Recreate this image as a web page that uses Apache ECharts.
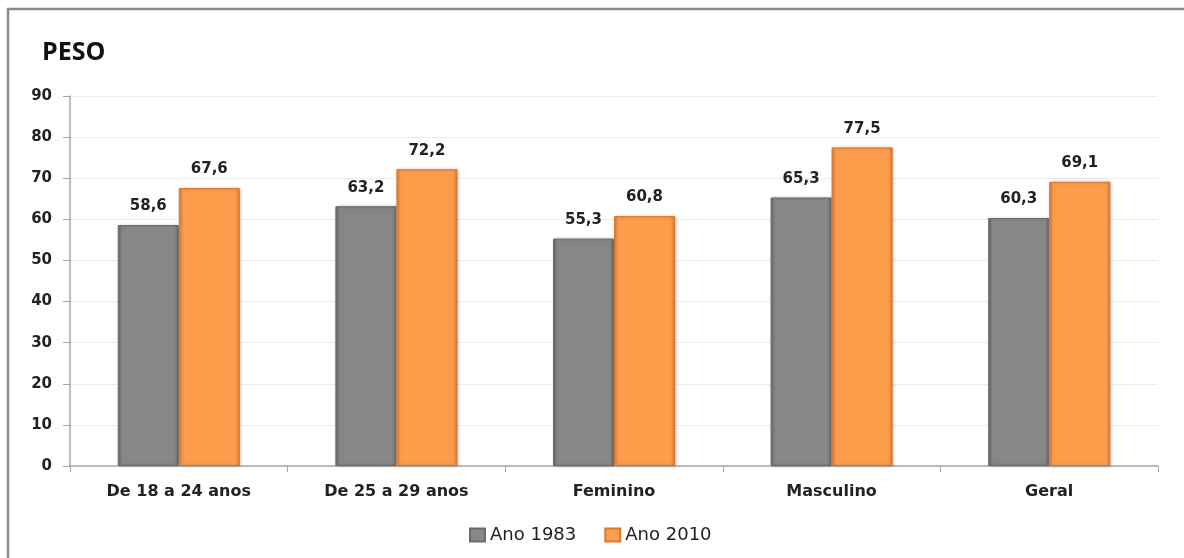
<!DOCTYPE html>
<html>
<head>
<meta charset="utf-8">
<title>PESO</title>
<script src="https://cdn.jsdelivr.net/npm/echarts@6/dist/echarts.min.js"></script>
<style>
  html, body { margin: 0; padding: 0; background: #ffffff; }
  #chart { width: 1184px; height: 558px; }
</style>
</head>
<body>
<div id="chart"></div>
<script>
// Categories and values (kg)
const categories = ['De 18 a 24 anos', 'De 25 a 29 anos', 'Feminino', 'Masculino', 'Geral'];
const ano1983 = [58.6, 63.2, 55.3, 65.3, 60.3];
const ano2010 = [67.6, 72.2, 60.8, 77.5, 69.1];
const seriesNames = ['Ano 1983', 'Ano 2010'];
const yTicks = { min: 0, max: 90, interval: 10 };

function bevel(edgeL, mid, edgeR) {
  return new echarts.graphic.LinearGradient(0, 0, 1, 0, [
    { offset: 0, color: edgeL },
    { offset: 0.07, color: mid },
    { offset: 0.93, color: mid },
    { offset: 1, color: edgeR }
  ]);
}

const labelStyle = {
  show: true,
  position: 'top',
  distance: 11,
  fontFamily: 'DejaVu Sans',
  fontWeight: 'bold',
  fontSize: 15,
  color: '#222222',
  formatter: p => p.value.toFixed(1).replace('.', ',')
};

const chart = echarts.init(document.getElementById('chart'), null, { renderer: 'canvas' });

chart.setOption({
  animation: false,
  backgroundColor: '#ffffff',
  graphic: [{
    type: 'rect',
    shape: { x: 8, y: 9, width: 1300, height: 700 },
    style: { fill: 'none', stroke: '#8a8a8a', lineWidth: 2.5 },
    silent: true,
    z: -1
  }],
  title: {
    text: 'PESO',
    left: 37,
    top: 35,
    textStyle: { fontFamily: 'Open Sans', fontWeight: 'bold', fontSize: 25, color: '#111111' }
  },
  grid: { left: 70, right: 26, top: 96, bottom: 92, containLabel: false },
  legend: {
    left: 464,
    top: 521,
    itemWidth: 15,
    itemHeight: 13,
    itemGap: 28,
    icon: 'rect',
    textStyle: { fontFamily: 'DejaVu Sans', fontSize: 18, color: '#222222' },
    data: seriesNames
  },
  xAxis: {
    type: 'category',
    data: categories,
    axisLine: { show: true, lineStyle: { color: '#a8a8a8', width: 1.5 } },
    axisTick: { show: true, length: 6, alignWithLabel: false, lineStyle: { color: '#a8a8a8' } },
    axisLabel: { margin: 18, fontFamily: 'DejaVu Sans', fontWeight: 'bold', fontSize: 16, color: '#222222' }
  },
  yAxis: {
    type: 'value',
    min: yTicks.min,
    max: yTicks.max,
    interval: yTicks.interval,
    axisLine: { show: true, lineStyle: { color: '#a8a8a8', width: 1.5 } },
    axisTick: { show: true, length: 7, lineStyle: { color: '#a8a8a8' } },
    axisLabel: { margin: 18, fontFamily: 'DejaVu Sans', fontWeight: 'bold', fontSize: 15, color: '#222222' },
    splitLine: { show: true, lineStyle: { color: '#ececec', width: 1 } }
  },
  series: [
    {
      name: seriesNames[0],
      type: 'bar',
      data: ano1983,
      barWidth: 61,
      barGap: '0%',
      itemStyle: {
        color: bevel('#6c6c6c', '#878787', '#666666'),
        borderColor: '#6a6a6a',
        borderWidth: 1,
        shadowColor: 'rgba(0,0,0,0.25)',
        shadowBlur: 3,
        shadowOffsetX: 1
      },
      label: labelStyle
    },
    {
      name: seriesNames[1],
      type: 'bar',
      data: ano2010,
      barWidth: 61,
      barGap: '0%',
      itemStyle: {
        color: bevel('#e08438', '#fd9c4b', '#d87a2e'),
        borderColor: '#d9792e',
        borderWidth: 1,
        shadowColor: 'rgba(0,0,0,0.25)',
        shadowBlur: 3,
        shadowOffsetX: 1
      },
      label: labelStyle
    }
  ]
});
</script>
</body>
</html>
